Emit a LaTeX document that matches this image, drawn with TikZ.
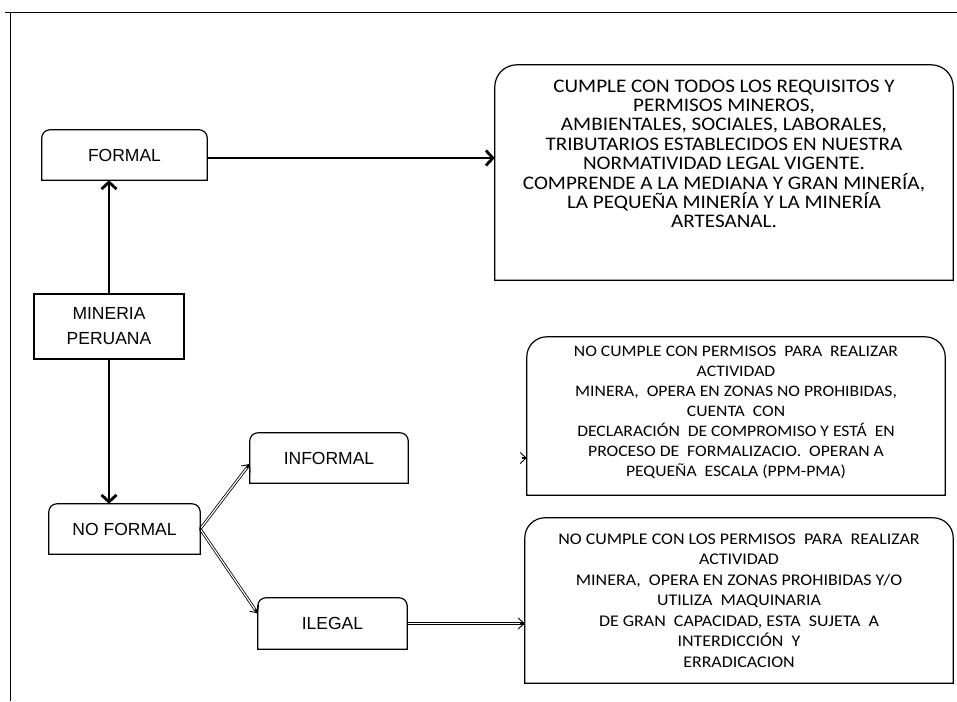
\documentclass[tikz,border=0pt]{standalone}
\usepackage{fontspec}
\setmainfont{Carlito}
\newfontfamily\arialfont{Liberation Sans}
\newfontfamily\widefont[FakeStretch=1.1]{Carlito}
\usetikzlibrary{positioning,arrows.meta,calc}
\tikzset{small box/.style={minimum width=#1, minimum height=50pt, inner sep=0pt, align=center,
    font=\arialfont\fontsize{17.5}{25}\selectfont},
  desc box/.style={inner sep=0pt, align=center},
  bold it/.style={line width=2.8pt, -{Straight Barb[length=7pt,width=15pt]}},
  double it/.style={line width=2.8pt, -{Straight Barb[length=6pt,width=11pt,line width=0.9pt]},
    postaction={draw=white, line width=1.2pt, -, shorten >=5pt, shorten <=0.5pt}}}
\newcommand{\toprounded}[2]{\draw[line width=1.2pt] (#1.south west) -- ([yshift=-#2]#1.north west)
  arc[start angle=180,end angle=90,radius=#2] -- ([xshift=-#2]#1.north east)
  arc[start angle=90,end angle=0,radius=#2] -- (#1.south east) -- cycle;}

\begin{document}
\begin{tikzpicture}[x=1pt,y=1pt]
\useasboundingbox (0,0) rectangle (957,-701);
\draw[line width=1pt] (5,-13) -- (957,-13) (10,-13) -- (10,-701);

\node (formal) [small box=165pt] at (124.5,-155) {FORMAL};
\node (mineria) [small box=150pt, minimum height=65pt, draw, line width=1.2pt] at (109,-326.5) {MINERIA\\PERUANA};
\node (noformal) [small box=151pt] at (124.5,-529) {NO FORMAL};
\node (informal) [small box=158pt] at (329,-458) {INFORMAL};
\node (ilegal) [small box=149pt, minimum height=51pt] at (332.5,-623.5) {ILEGAL};

\node (dformal) [desc box, minimum width=458pt, minimum height=215pt,
  font=\widefont\fontsize{19.2}{19.4}\selectfont] at (724,-172.5)
  {CUMPLE CON TODOS LOS REQUISITOS Y\\
   PERMISOS MINEROS,\\
   AMBIENTALES, SOCIALES, LABORALES,\\
   TRIBUTARIOS ESTABLECIDOS EN NUESTRA\\
   NORMATIVIDAD LEGAL VIGENTE.\\
   COMPRENDE A LA MEDIANA Y GRAN MINERÍA,\\
   LA PEQUEÑA MINERÍA Y LA MINERÍA\\
   ARTESANAL.\\[18pt]\mbox{}};
\node (dinformal) [desc box, minimum width=418pt, minimum height=158pt,
  font=\widefont\fontsize{16}{20}\selectfont] at (736,-416)
  {NO CUMPLE CON PERMISOS\ \ PARA\ \ REALIZAR\\
   ACTIVIDAD\\
   MINERA,\ \ OPERA EN ZONAS NO PROHIBIDAS,\\
   CUENTA\ \ CON\\
   DECLARACIÓN\ \ DE COMPROMISO Y ESTÁ\ \ EN\\
   PROCESO DE\ \ FORMALIZACIO.\ \ OPERAN A\\
   PEQUEÑA\ \ ESCALA (PPM-PMA)\\[-10pt]\mbox{}};
\node (dilegal) [desc box, minimum width=428pt, minimum height=165pt,
  font=\widefont\fontsize{16.3}{20.5}\selectfont] at (739,-600.5)
  {NO CUMPLE CON LOS PERMISOS\ \ PARA\ \ REALIZAR\\
   ACTIVIDAD\\
   MINERA,\ \ OPERA EN ZONAS PROHIBIDAS Y/O\\
   UTILIZA\ \ MAQUINARIA\\
   DE GRAN\ \ CAPACIDAD, ESTA\ \ SUJETA\ \ A\\
   INTERDICCIÓN\ \ Y\\
   ERRADICACION};

\coordinate (fout) at ([yshift=-3pt]formal.east);
\coordinate (iin) at ([yshift=-6pt]informal.west);
\coordinate (lin) at ([yshift=10pt]ilegal.west);

\path
  (mineria.north) edge[bold it] (mineria.north |- formal.south);
\path
  (fout) edge[bold it] (fout -| dformal.west);
\path
  (mineria.south) edge[bold it] (mineria.south |- noformal.north);
\draw[double it] (noformal.east) -- (iin);
\draw[double it] (noformal.east) -- (lin);
\draw[double it] (informal.east) -- (informal.east -| dinformal.west);
\draw[double it] (ilegal.east) -- (ilegal.east -| dilegal.west);

\toprounded{formal}{8pt}
\toprounded{noformal}{8pt}
\toprounded{informal}{8pt}
\toprounded{ilegal}{8pt}
\toprounded{dformal}{22pt}
\toprounded{dinformal}{20pt}
\toprounded{dilegal}{20pt}
\end{tikzpicture}
\end{document}
